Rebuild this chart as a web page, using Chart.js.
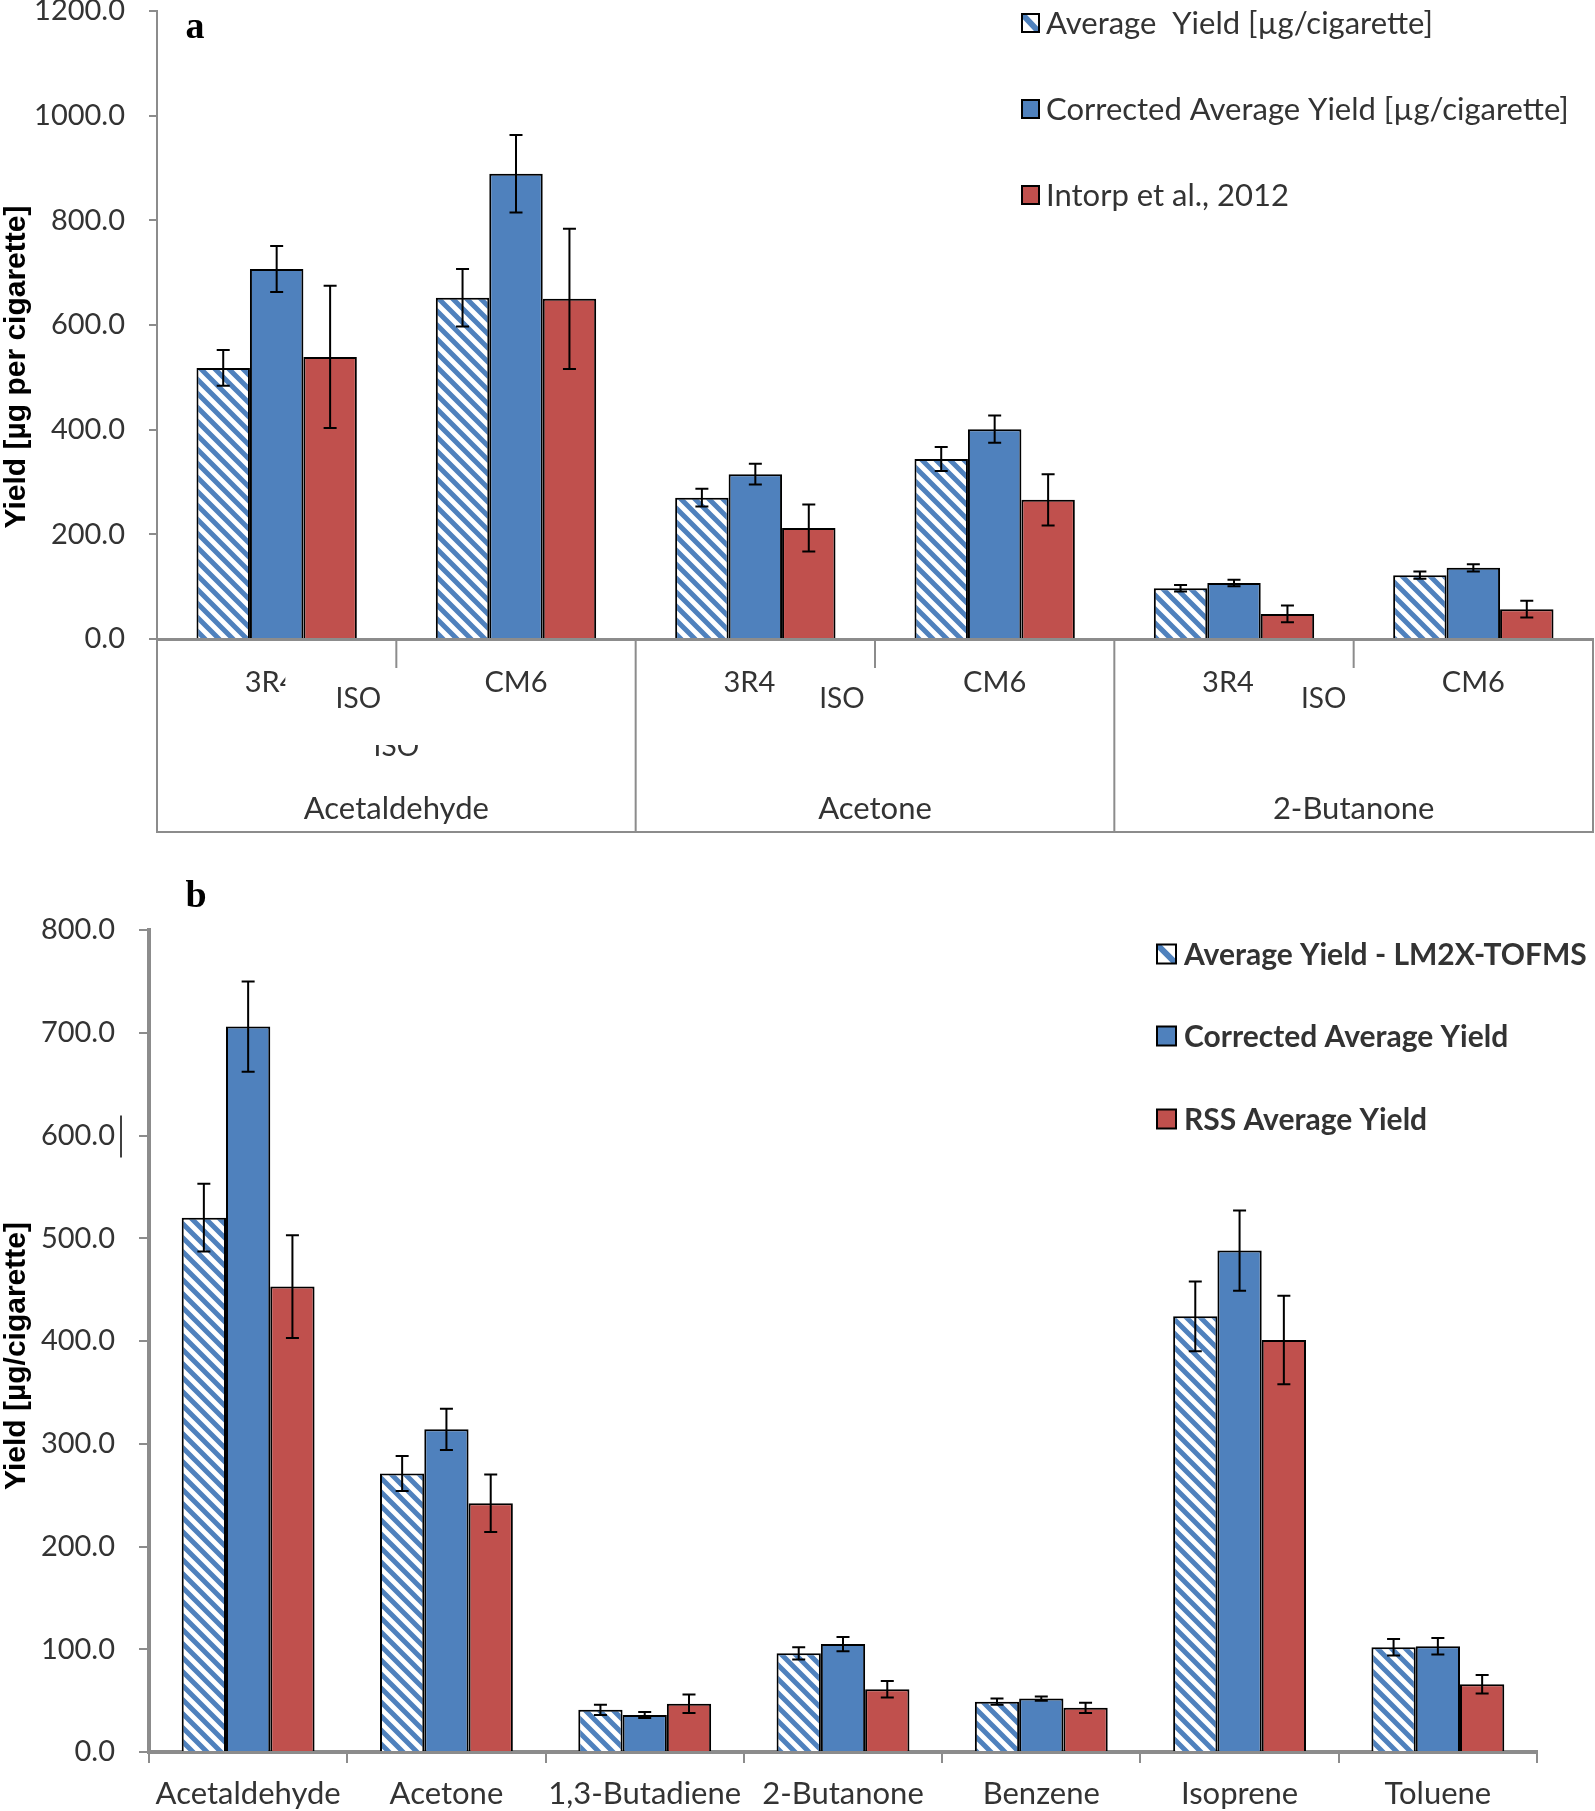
<!DOCTYPE html>
<html>
<head>
<meta charset="utf-8">
<title>Yields</title>
<script src="https://cdn.jsdelivr.net/npm/chart.js@4.4.1/dist/chart.umd.min.js"></script>
<style>
  html, body { margin: 0; padding: 0; background: #fff; }
  #page { position: relative; width: 1595px; height: 1811px; overflow: hidden; }
  canvas { position: absolute; left: 0; }
  #chartA { top: 0; }
  #chartB { top: 845px; }
</style>
</head>
<body>
<div id="page">
  <canvas id="chartA" width="1595" height="845"></canvas>
  <canvas id="chartB" width="1595" height="966"></canvas>
</div>
<script>
// ---- panel a : values per compound / cigarette (ISO regime)
var groupsA = ['Acetaldehyde', 'Acetone', '2-Butanone'];
var cigsA = ['3R4', 'CM6', '3R4', 'CM6', '3R4', 'CM6'];
var regimeA = 'ISO';
var seriesA = ['Average  Yield [µg/cigarette]', 'Corrected Average Yield [µg/cigarette]', 'Intorp et al., 2012'];
var avgA = [518, 652, 270, 344, 97, 122];
var avgErrA = [34, 55, 17, 23, 6, 7];
var corrA = [707, 889, 315, 401, 107, 136];
var corrErrA = [44, 74, 20, 26, 6, 7];
var intorpA = [539, 650, 212, 266, 48, 57];
var intorpErrA = [136, 134, 45, 49, 16, 16];
var ticksA = {min: 0, max: 1200, step: 200};

// ---- panel b
var compoundsB = ['Acetaldehyde', 'Acetone', '1,3-Butadiene', '2-Butanone', 'Benzene', 'Isoprene', 'Toluene'];
var seriesB = ['Average Yield - LM2X-TOFMS', 'Corrected Average Yield', 'RSS Average Yield'];
var avgB = [520, 271, 41, 96, 49, 424, 102];
var avgErrB = [33, 17, 5, 6, 3, 34, 8];
var corrB = [706, 314, 36, 105, 52, 488, 103];
var corrErrB = [44, 20, 3, 7, 2, 39, 8];
var rssB = [453, 242, 47, 61, 43, 401, 66];
var rssErrB = [50, 28, 9, 8, 5, 43, 9];
var ticksB = {min: 0, max: 800, step: 100};

var BLUE = '#4F81BD', RED = '#C0504D', GRID = '#8c8c8c', TEXT = '#333333';
var LABEL_FONT = "Lato, 'Open Sans', sans-serif";

function hatch() {
  var p = 14;
  var c = document.createElement('canvas');
  c.width = p; c.height = p;
  var g = c.getContext('2d');
  g.fillStyle = '#fff';
  g.fillRect(0, 0, p, p);
  g.strokeStyle = BLUE;
  g.lineWidth = 5;
  g.beginPath();
  g.moveTo(-4, -4); g.lineTo(p + 4, p + 4);
  g.moveTo(-4, p - 4); g.lineTo(4, p + 4);
  g.moveTo(p - 4, -4); g.lineTo(p + 4, 4);
  g.stroke();
  return g.createPattern(c, 'repeat');
}

var errorBarPlugin = {
  id: 'errorBars',
  afterDatasetsDraw: function(chart) {
    var ctx = chart.ctx, y = chart.scales.y;
    ctx.save();
    ctx.strokeStyle = '#000';
    ctx.lineWidth = 2;
    chart.data.datasets.forEach(function(ds, di) {
      chart.getDatasetMeta(di).data.forEach(function(bar, i) {
        var top = y.getPixelForValue(ds.data[i] + ds.errors[i]);
        var bot = y.getPixelForValue(ds.data[i] - ds.errors[i]);
        ctx.beginPath();
        ctx.moveTo(bar.x, top); ctx.lineTo(bar.x, bot);
        ctx.moveTo(bar.x - 6.5, top); ctx.lineTo(bar.x + 6.5, top);
        ctx.moveTo(bar.x - 6.5, bot); ctx.lineTo(bar.x + 6.5, bot);
        ctx.stroke();
      });
    });
    ctx.restore();
  }
};

// legend, panel letter and rotated y title
var decorPlugin = {
  id: 'decor',
  afterDraw: function(chart, args, o) {
    var ctx = chart.ctx;
    ctx.save();
    ctx.textBaseline = 'middle';
    ctx.textAlign = 'left';
    chart.data.datasets.forEach(function(ds, i) {
      var cy = o.rows[i], bx = o.boxX, w = o.boxW, h = o.boxH;
      if (ds.hatched) {
        ctx.fillStyle = '#fff';
        ctx.fillRect(bx, cy - h / 2, w, h);
        ctx.save();
        ctx.beginPath(); ctx.rect(bx, cy - h / 2, w, h); ctx.clip();
        ctx.strokeStyle = BLUE; ctx.lineWidth = 6;
        ctx.beginPath(); ctx.moveTo(bx, cy - h / 2); ctx.lineTo(bx + w, cy + h / 2); ctx.stroke();
        ctx.restore();
      } else {
        ctx.fillStyle = ds.backgroundColor;
        ctx.fillRect(bx, cy - h / 2, w, h);
      }
      ctx.strokeStyle = '#000'; ctx.lineWidth = 2;
      ctx.strokeRect(bx, cy - h / 2, w, h);
      ctx.fillStyle = TEXT;
      ctx.font = o.legendFont;
      ctx.fillText(ds.label, o.textX, cy + 1);
    });
    // panel letter
    ctx.fillStyle = '#000';
    ctx.font = "bold 38px 'Liberation Serif', serif";
    ctx.textAlign = 'center';
    ctx.textBaseline = 'alphabetic';
    ctx.fillText(o.letter, o.letterX, o.letterY);
    // y title
    ctx.translate(o.titleX, o.titleY);
    ctx.rotate(-Math.PI / 2);
    ctx.textBaseline = 'middle';
    ctx.font = "bold 30px 'Liberation Sans', Arial, sans-serif";
    ctx.fillText(o.title, 0, 0);
    ctx.restore();
  }
};

// two-level category axis of panel a (cigarette / regime / compound)
var groupAxisPlugin = {
  id: 'groupAxis',
  afterDraw: function(chart) {
    var ctx = chart.ctx, x = chart.scales.x, area = chart.chartArea;
    var half = (x.getPixelForValue(1) - x.getPixelForValue(0)) / 2;
    var base = area.bottom, boxBottom = 832;
    ctx.save();
    ctx.strokeStyle = GRID;
    ctx.lineWidth = 2;
    ctx.beginPath();
    ctx.moveTo(area.left, base); ctx.lineTo(area.left, boxBottom);
    ctx.lineTo(area.right, boxBottom); ctx.lineTo(area.right, base);
    groupsA.forEach(function(g, gi) {
      var mid = x.getPixelForValue(gi * 2) + half;
      ctx.moveTo(mid, base); ctx.lineTo(mid, base + 29);
      if (gi > 0) {
        var sep = x.getPixelForValue(gi * 2) - half;
        ctx.moveTo(sep, base); ctx.lineTo(sep, boxBottom);
      }
    });
    ctx.stroke();

    ctx.fillStyle = TEXT;
    ctx.textAlign = 'center';
    ctx.textBaseline = 'middle';
    ctx.font = '29px ' + LABEL_FONT;
    cigsA.forEach(function(c, i) {
      ctx.fillText(c, x.getPixelForValue(i) - (i % 2 === 0 ? 6 : 0), 683);
    });
    var isoShift = [-38, -33, -30];
    groupsA.forEach(function(g, gi) {
      var mid = x.getPixelForValue(gi * 2) + half;
      if (gi === 0) {
        ctx.fillStyle = '#fff';
        ctx.fillRect(mid - 111, 669, 50, 30);
        ctx.fillStyle = TEXT;
      }
      ctx.font = '28px ' + LABEL_FONT;
      ctx.fillText(regimeA, mid + isoShift[gi], 699);
      ctx.font = '31px ' + LABEL_FONT;
      ctx.fillText(g, mid, 809);
    });
    // clipped duplicate of the regime label under the first group
    var m0 = x.getPixelForValue(0) + half;
    ctx.font = '28px ' + LABEL_FONT;
    ctx.save();
    ctx.beginPath(); ctx.rect(m0 - 40, 745, 80, 20); ctx.clip();
    ctx.fillText(regimeA, m0, 747);
    ctx.restore();
    ctx.restore();
  }
};

var cursorPlugin = {
  id: 'cursorMark',
  afterDraw: function(chart) {
    var ctx = chart.ctx, y = chart.scales.y.getPixelForValue(600);
    ctx.save();
    ctx.strokeStyle = '#000'; ctx.lineWidth = 1.5;
    ctx.beginPath(); ctx.moveTo(121, y - 20); ctx.lineTo(121, y + 22); ctx.stroke();
    ctx.restore();
  }
};

function yScale(t, width, border, tickLen) {
  return {
    min: t.min, max: t.max,
    ticks: {
      stepSize: t.step,
      callback: function(v) { return v.toFixed(1); },
      font: {family: LABEL_FONT, size: 29},
      color: TEXT,
      padding: 24
    },
    grid: {drawOnChartArea: false, drawTicks: true, tickLength: tickLen, color: GRID, lineWidth: 2},
    border: {display: true, color: GRID, width: border},
    afterFit: function(s) { s.width = width; s.paddingTop = 0; s.paddingBottom = 0; }
  };
}

Chart.defaults.font.family = LABEL_FONT;

new Chart(document.getElementById('chartA'), {
  type: 'bar',
  data: {
    labels: cigsA,
    datasets: [
      {label: seriesA[0], data: avgA, errors: avgErrA, hatched: true, backgroundColor: hatch(), borderColor: '#000', borderWidth: 2},
      {label: seriesA[1], data: corrA, errors: corrErrA, backgroundColor: BLUE, borderColor: '#000', borderWidth: 2},
      {label: seriesA[2], data: intorpA, errors: intorpErrA, backgroundColor: RED, borderColor: '#000', borderWidth: 2}
    ]
  },
  options: {
    responsive: false, animation: false, devicePixelRatio: 1,
    layout: {padding: {top: 11, right: 2, left: 0, bottom: 0}},
    datasets: {bar: {categoryPercentage: 0.67, barPercentage: 1}},
    plugins: {
      legend: {display: false},
      tooltip: {enabled: false},
      decor: {
        rows: [23, 109, 195], boxX: 1022, boxW: 17, boxH: 18, textX: 1046,
        legendFont: '31px ' + LABEL_FONT,
        letter: 'a', letterX: 195, letterY: 38,
        title: 'Yield [µg per cigarette]', titleX: 17, titleY: 367
      }
    },
    scales: {
      x: {
        grid: {display: false},
        border: {display: true, color: GRID, width: 3},
        ticks: {display: false},
        afterFit: function(s) { s.height = 206; s.paddingLeft = 0; s.paddingRight = 0; }
      },
      y: yScale(ticksA, 157, 2, 8)
    }
  },
  plugins: [errorBarPlugin, groupAxisPlugin, decorPlugin]
});

new Chart(document.getElementById('chartB'), {
  type: 'bar',
  data: {
    labels: compoundsB,
    datasets: [
      {label: seriesB[0], data: avgB, errors: avgErrB, hatched: true, backgroundColor: hatch(), borderColor: '#000', borderWidth: 2},
      {label: seriesB[1], data: corrB, errors: corrErrB, backgroundColor: BLUE, borderColor: '#000', borderWidth: 2},
      {label: seriesB[2], data: rssB, errors: rssErrB, backgroundColor: RED, borderColor: '#000', borderWidth: 2}
    ]
  },
  options: {
    responsive: false, animation: false, devicePixelRatio: 1,
    layout: {padding: {top: 85, right: 58, left: 0, bottom: 0}},
    datasets: {bar: {categoryPercentage: 0.67, barPercentage: 1}},
    plugins: {
      legend: {display: false},
      tooltip: {enabled: false},
      decor: {
        rows: [109, 191, 274], boxX: 1157, boxW: 19, boxH: 19, textX: 1184,
        legendFont: 'bold 30px ' + LABEL_FONT,
        letter: 'b', letterX: 196, letterY: 62,
        title: 'Yield [µg/cigarette]', titleX: 17, titleY: 511
      }
    },
    scales: {
      x: {
        grid: {display: true, drawOnChartArea: false, drawTicks: true, tickLength: 11, color: GRID, lineWidth: 2, offset: true},
        border: {display: true, color: GRID, width: 4},
        ticks: {font: {family: LABEL_FONT, size: 31}, color: TEXT, padding: 12, maxRotation: 0, autoSkip: false},
        afterFit: function(s) { s.height = 59; s.paddingLeft = 0; s.paddingRight = 0; }
      },
      y: yScale(ticksB, 149, 4, 10)
    }
  },
  plugins: [errorBarPlugin, decorPlugin, cursorPlugin]
});
</script>
</body>
</html>
